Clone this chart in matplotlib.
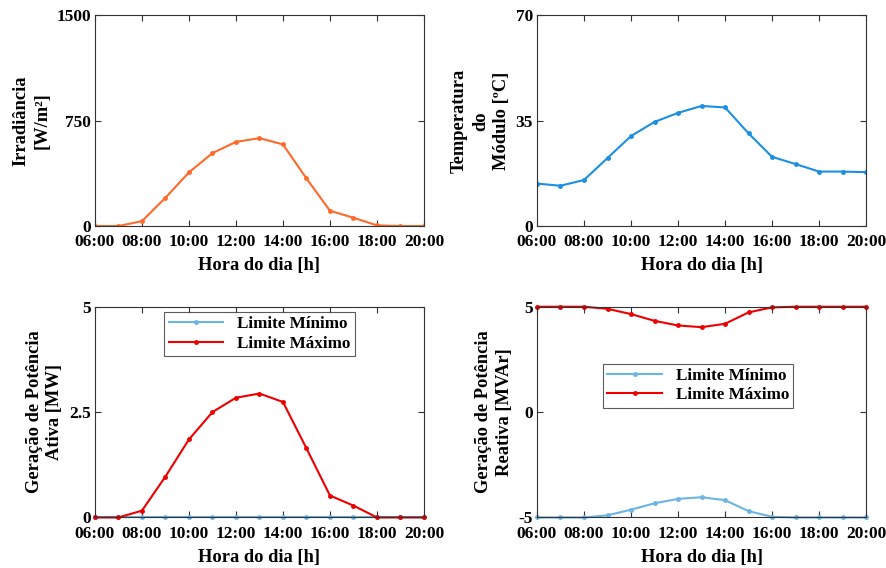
import matplotlib
matplotlib.use("Agg")
import matplotlib.pyplot as plt

plt.rcParams['font.family'] = ['Liberation Serif', 'DejaVu Serif']
plt.rcParams['font.weight'] = 'bold'
plt.rcParams['axes.unicode_minus'] = False

# hours of the day
hours = [6, 7, 8, 9, 10, 11, 12, 13, 14, 15, 16, 17, 18, 19, 20]
hour_ticks = [6, 8, 10, 12, 14, 16, 18, 20]
hour_labels = ["06:00", "08:00", "10:00", "12:00", "14:00", "16:00", "18:00", "20:00"]

irradiance = [0, 0, 35, 201, 382, 519, 599, 626, 581, 339, 109, 59, 5, 0, 0]
temperature = [14.1, 13.4, 15.3, 22.6, 29.9, 34.6, 37.6, 39.9, 39.4, 30.8, 23.0, 20.6, 18.1, 18.1, 17.9]
p_min = [0, 0, 0, 0, 0, 0, 0, 0, 0, 0, 0, 0, 0, 0, 0]
p_max = [0, 0, 0.16, 0.97, 1.85, 2.50, 2.84, 2.94, 2.74, 1.64, 0.52, 0.28, 0, 0, 0]
q_min = [-5, -5, -5, -4.9, -4.63, -4.33, -4.12, -4.04, -4.18, -4.70, -4.97, -5, -5, -5, -5]
q_max = [5, 5, 5, 4.9, 4.65, 4.33, 4.11, 4.03, 4.19, 4.73, 4.97, 5, 5, 5, 5]

c_orange = '#FF6A2B'
c_blue = '#1A8FE3'
c_lblue = '#6CB4E4'
c_red = '#EE0000'

fig = plt.figure(figsize=(8.87, 5.68), dpi=100)
w, h = 0.371, 0.371
ax1 = fig.add_axes([0.107, 0.602, w, h])
ax2 = fig.add_axes([0.6054, 0.602, w, h])
ax3 = fig.add_axes([0.107, 0.089, w, h])
ax4 = fig.add_axes([0.6054, 0.089, w, h])


def style(ax, ylim, yticks, ylabel):
    ax.set_xlim(6, 20)
    ax.set_ylim(*ylim)
    ax.set_xticks(hour_ticks)
    ax.set_xticklabels(hour_labels)
    ax.set_yticks(yticks)
    ax.tick_params(direction='in', top=True, right=True, labelsize=12.5,
                   length=4, width=0.8, color='#333333')
    ax.tick_params(axis='x', pad=6)
    ax.tick_params(axis='y', pad=3)
    for lab in ax.get_xticklabels() + ax.get_yticklabels():
        lab.set_fontweight('bold')
    for s in ax.spines.values():
        s.set_color('#333333')
        s.set_linewidth(0.8)
    ax.set_xlabel("Hora do dia [h]", fontsize=13.3, fontweight='bold', labelpad=5)
    ax.set_ylabel(ylabel, fontsize=13.3, fontweight='bold', linespacing=1.3)


ax1.plot(hours, irradiance, color=c_orange, lw=1.5, marker='.', ms=5)
style(ax1, (0, 1500), [0, 750, 1500], "Irradiância\n[W/m²]")

ax2.plot(hours, temperature, color=c_blue, lw=1.5, marker='.', ms=5)
style(ax2, (0, 70), [0, 35, 70], "Temperatura\ndo\nMódulo [ºC]")

ax3.plot(hours, p_min, color=c_lblue, lw=1.5, marker='.', ms=5, label="Limite Mínimo")
ax3.plot(hours, p_max, color=c_red, lw=1.5, marker='.', ms=5, label="Limite Máximo")
style(ax3, (0, 5), [0, 2.5, 5], "Geração de Potência\nAtiva [MW]")
ax3.set_yticklabels(["0", "2.5", "5"])
leg = ax3.legend(loc='upper center', bbox_to_anchor=(0.5, 1.0), borderaxespad=0.3,
                 prop={'weight': 'bold', 'size': 12.3}, fancybox=False,
                 edgecolor='#333333', handlelength=3.2, borderpad=0.25,
                 labelspacing=0.2)
leg.get_frame().set_linewidth(0.8)

ax4.plot(hours, q_min, color=c_lblue, lw=1.5, marker='.', ms=5, label="Limite Mínimo")
ax4.plot(hours, q_max, color=c_red, lw=1.5, marker='.', ms=5, label="Limite Máximo")
style(ax4, (-5, 5), [-5, 0, 5], "Geração de Potência\nReativa [MVAr]")
leg = ax4.legend(loc='center', bbox_to_anchor=(0.49, 0.626),
                 prop={'weight': 'bold', 'size': 12.3}, fancybox=False,
                 edgecolor='#333333', handlelength=3.2, borderpad=0.25,
                 labelspacing=0.2)
leg.get_frame().set_linewidth(0.8)
for ax in (ax3, ax4):
    for l in ax.get_lines():
        l.set_clip_on(False)

fig.savefig("out.png", dpi=100)
